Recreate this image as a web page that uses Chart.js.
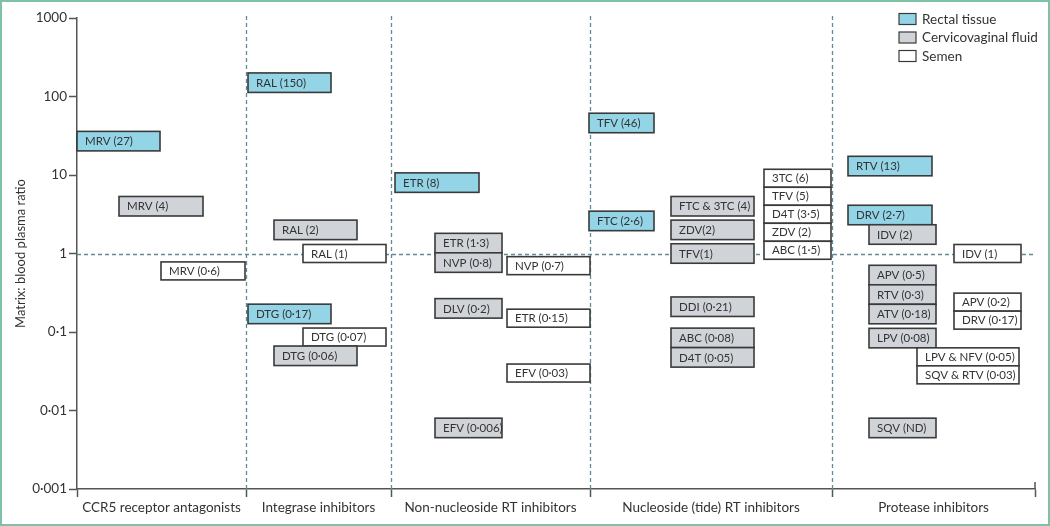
<!DOCTYPE html>
<html>
<head>
<meta charset="utf-8">
<script src="https://cdn.jsdelivr.net/npm/chart.js@4.4.1/dist/chart.umd.min.js"></script>
<style>
  html, body { margin: 0; padding: 0; background: #fff; }
  canvas { display: block; }
</style>
</head>
<body>
<canvas id="chart" width="1050" height="526"></canvas>
<script>
// drug classes along the x axis
const classes = ['CCR5 receptor antagonists', 'Integrase inhibitors', 'Non-nucleoside RT inhibitors',
  'Nucleoside (tide) RT inhibitors', 'Protease inhibitors'];
const matrices = ['Rectal tissue', 'Cervicovaginal fluid', 'Semen'];

// one entry per box
const drugLabels = [
  'MRV (27)', 'MRV (4)', 'MRV (0·6)',
  'RAL (150)', 'RAL (2)', 'RAL (1)', 'DTG (0·17)', 'DTG (0·07)', 'DTG (0·06)',
  'ETR (8)', 'ETR (1·3)', 'NVP (0·8)', 'NVP (0·7)', 'DLV (0·2)', 'ETR (0·15)', 'EFV (0·03)', 'EFV (0·006)',
  'TFV (46)', 'FTC (2·6)', 'FTC & 3TC (4)', 'ZDV(2)', 'TFV(1)', 'DDI (0·21)', 'ABC (0·08)', 'D4T (0·05)',
  '3TC (6)', 'TFV (5)', 'D4T (3·5)', 'ZDV (2)', 'ABC (1·5)',
  'RTV (13)', 'DRV (2·7)', 'IDV (2)', 'IDV (1)', 'APV (0·5)', 'RTV (0·3)', 'ATV (0·18)', 'LPV (0·08)',
  'SQV (ND)', 'APV (0·2)', 'DRV (0·17)', 'LPV & NFV (0·05)', 'SQV & RTV (0·03)'
];
// matrix : blood plasma ratio (SQV not detected, drawn near 0·006 as in the picture)
const ratios = [
  27, 4, 0.6,
  150, 2, 1, 0.17, 0.07, 0.06,
  8, 1.3, 0.8, 0.7, 0.2, 0.15, 0.03, 0.006,
  46, 2.6, 4, 2, 1, 0.21, 0.08, 0.05,
  6, 5, 3.5, 2, 1.5,
  13, 2.7, 2, 1, 0.5, 0.3, 0.18, 0.08,
  0.006, 0.2, 0.17, 0.05, 0.03
];
const drugClass = [
  0, 0, 0,
  1, 1, 1, 1, 1, 1,
  2, 2, 2, 2, 2, 2, 2, 2,
  3, 3, 3, 3, 3, 3, 3, 3,
  3, 3, 3, 3, 3,
  4, 4, 4, 4, 4, 4, 4, 4,
  4, 4, 4, 4, 4
];
const drugMatrix = [
  0, 1, 2,
  0, 1, 2, 0, 2, 1,
  0, 1, 1, 2, 1, 2, 2, 1,
  0, 0, 1, 1, 1, 1, 1, 1,
  2, 2, 2, 2, 2,
  0, 0, 1, 2, 1, 1, 1, 1,
  1, 2, 2, 2, 2
];
const yTickValues = [0.001, 0.01, 0.1, 1, 10, 100, 1000];
const yTickLabels = ['0·001', '0·01', '0·1', '1', '10', '100', '1000'];

// layout: class edges on the x axis and the box lanes inside each class
const classEdges = [0, 169, 314, 513, 755, 958];
const lanes = [
  [[0, 83], [42, 126], [84, 168]],
  [[2, 85], [28, 111], [57, 140]],
  [[4, 88], [44, 111], [116, 199]],
  [[-1, 64], [81, 164], [174, 241]],
  [[16, 100], [37, 104], [122, 189], [85, 187]]
];
const drugLane = drugMatrix.map((m, i) => (i >= 41 ? 3 : m));

const fills = ['#93d4e6', '#d0d4d9', '#ffffff'];
const boxHeights = [19.5, 19.5, 18];
const ink = '#333';
const dashColor = '#5f8b95';
const FONT = 'Lato, "Open Sans", sans-serif';

function placeBoxes(chart) {
  const x = chart.scales.x, y = chart.scales.y;
  const boxes = drugLabels.map((label, i) => {
    const base = classEdges[drugClass[i]];
    const lane = lanes[drugClass[i]][drugLane[i]];
    return {
      label, m: drugMatrix[i],
      x0: x.getPixelForValue(base + lane[0]),
      x1: x.getPixelForValue(base + lane[1]),
      ideal: y.getPixelForValue(ratios[i]),
      h: boxHeights[drugMatrix[i]]
    };
  });
  // boxes that collide are stacked around their mean position
  let clusters = boxes.map(b => ({ items: [b] }));
  const place = c => {
    c.items.sort((a, b) => a.ideal - b.ideal);
    const H = c.items.reduce((s, b) => s + b.h, 0);
    const mean = c.items.reduce((s, b) => s + b.ideal, 0) / c.items.length;
    let top = mean - H / 2;
    c.items.forEach(b => { b.top = top; top += b.h; });
  };
  clusters.forEach(place);
  const hit = (a, b) => a.x0 < b.x1 - 1 && b.x0 < a.x1 - 1 &&
    a.top < b.top + b.h - 0.5 && b.top < a.top + a.h - 0.5;
  let changed = true;
  while (changed) {
    changed = false;
    outer:
    for (let i = 0; i < clusters.length; i++) {
      for (let j = i + 1; j < clusters.length; j++) {
        if (clusters[i].items.some(a => clusters[j].items.some(b => hit(a, b)))) {
          clusters[i].items = clusters[i].items.concat(clusters[j].items);
          clusters.splice(j, 1);
          place(clusters[i]);
          changed = true;
          break outer;
        }
      }
    }
  }
  return boxes;
}

const drawing = {
  id: 'drawing',
  beforeDatasetsDraw(chart) {
    const { ctx, chartArea: a } = chart;
    const x = chart.scales.x, y = chart.scales.y;
    ctx.save();
    ctx.strokeStyle = dashColor;
    ctx.lineWidth = 1.3;
    ctx.setLineDash([4, 3]);
    classEdges.slice(1, -1).forEach(e => {
      const px = Math.round(x.getPixelForValue(e)) + 0.5;
      ctx.beginPath();
      ctx.moveTo(px, a.top - 2);
      ctx.lineTo(px, a.bottom);
      ctx.stroke();
    });
    const py = Math.round(y.getPixelForValue(1)) + 0.5;
    ctx.beginPath();
    ctx.moveTo(a.left, py);
    ctx.lineTo(a.right, py);
    ctx.stroke();
    ctx.restore();
  },
  afterDatasetsDraw(chart) {
    const { ctx, chartArea: a } = chart;
    ctx.save();
    // small upward tick closing the x axis
    ctx.strokeStyle = '#555';
    ctx.lineWidth = 1.5;
    ctx.beginPath();
    ctx.moveTo(a.right, a.bottom);
    ctx.lineTo(a.right, a.bottom - 7);
    ctx.stroke();

    ctx.font = '11.5px ' + FONT;
    ctx.textBaseline = 'middle';
    placeBoxes(chart).forEach(b => {
      ctx.fillStyle = fills[b.m];
      ctx.fillRect(b.x0, b.top, b.x1 - b.x0, b.h);
      ctx.strokeStyle = '#3a3a3a';
      ctx.lineWidth = 1.6;
      ctx.strokeRect(b.x0, b.top, b.x1 - b.x0, b.h);
      ctx.fillStyle = ink;
      ctx.fillText(b.label, b.x0 + 8, b.top + b.h / 2 + 0.5);
    });

    // legend
    ctx.font = '13.5px ' + FONT;
    matrices.forEach((m, i) => {
      const cy = 19 + i * 18.5;
      ctx.fillStyle = fills[i];
      ctx.fillRect(899, cy - 5.5, 17, 11);
      ctx.strokeStyle = '#3a3a3a';
      ctx.lineWidth = 1.2;
      ctx.strokeRect(899, cy - 5.5, 17, 11);
      ctx.fillStyle = ink;
      ctx.fillText(m, 922, cy + 0.5);
    });

    // frame round the figure
    ctx.strokeStyle = '#7fc1a5';
    ctx.lineWidth = 2;
    ctx.strokeRect(1, 1, chart.width - 2, chart.height - 2);
    ctx.restore();
  }
};

const mids = classes.map((c, i) => (classEdges[i] + classEdges[i + 1]) / 2);

new Chart(document.getElementById('chart'), {
  type: 'scatter',
  data: { datasets: [] },
  options: {
    responsive: false,
    animation: false,
    devicePixelRatio: 1,
    layout: { padding: { left: 0, right: 15, top: 18, bottom: 0 } },
    plugins: { legend: { display: false }, tooltip: { enabled: false } },
    scales: {
      x: {
        type: 'linear',
        min: classEdges[0],
        max: classEdges[classEdges.length - 1],
        afterBuildTicks: s => {
          s.ticks = classEdges.concat(mids).sort((p, q) => p - q).map(v => ({ value: v }));
        },
        afterFit: s => { s.height = 37; },
        ticks: {
          autoSkip: false, maxRotation: 0, minRotation: 0, padding: 3,
          color: ink, font: { family: FONT, size: 13.5 },
          callback: v => { const k = mids.indexOf(v); return k >= 0 ? classes[k] : ''; }
        },
        grid: {
          drawOnChartArea: false, tickLength: 8, tickWidth: 1.5,
          tickColor: c => (c.tick && classEdges.includes(c.tick.value) ? '#555' : 'rgba(0,0,0,0)')
        },
        border: { color: '#555', width: 1.5 }
      },
      y: {
        type: 'logarithmic',
        min: yTickValues[0],
        max: yTickValues[yTickValues.length - 1],
        afterBuildTicks: s => { s.ticks = yTickValues.map(v => ({ value: v, major: true })); },
        afterFit: s => { s.width = 77; },
        ticks: {
          autoSkip: false, padding: 2, color: ink, font: { family: FONT, size: 13.5 },
          callback: v => yTickLabels[yTickValues.indexOf(v)]
        },
        grid: { drawOnChartArea: false, tickLength: 8, tickWidth: 1.5, tickColor: '#555' },
        border: { color: '#555', width: 1.5 },
        title: {
          display: true, text: 'Matrix: blood plasma ratio', color: ink,
          font: { family: FONT, size: 13 }, padding: { top: 13, bottom: 0 }
        }
      }
    }
  },
  plugins: [drawing]
});
</script>
</body>
</html>
